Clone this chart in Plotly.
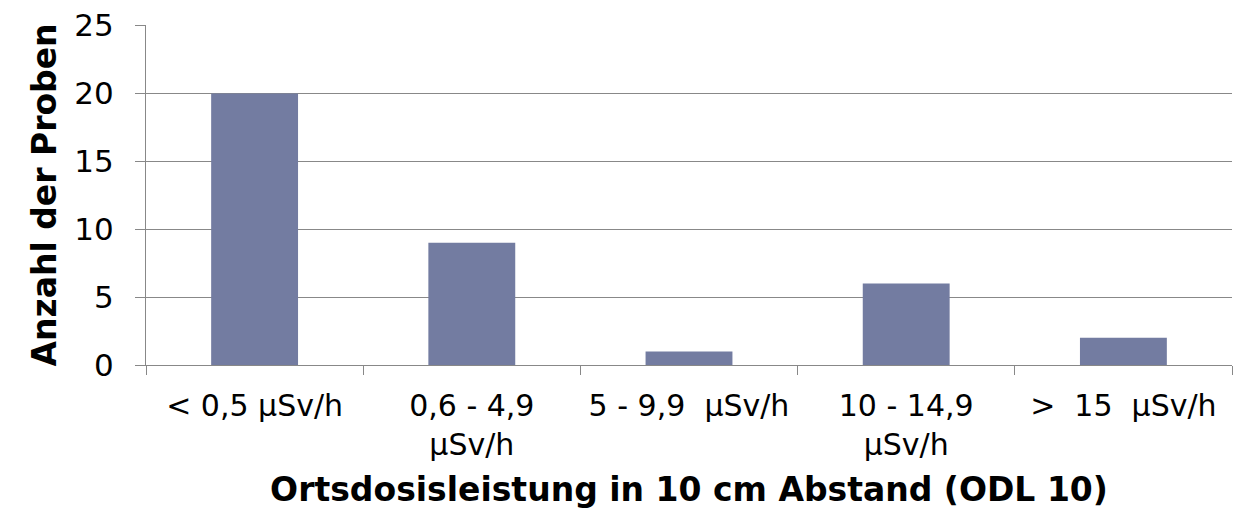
import plotly.graph_objects as go

categories = ["< 0,5 µSv/h", "0,6 - 4,9<br>µSv/h", "5 - 9,9  µSv/h", "10 - 14,9<br>µSv/h", ">  15  µSv/h"]
counts = [20, 9, 1, 6, 2]
y_ticks = [0, 5, 10, 15, 20, 25]

fig = go.Figure(
    go.Bar(
        x=categories,
        y=counts,
        marker_color="#737CA1",
        marker_line_width=0,
    )
)

fig.update_layout(
    width=1256,
    height=515,
    margin=dict(l=146, r=24, t=25, b=150),
    plot_bgcolor="white",
    paper_bgcolor="white",
    bargap=0.6,
    showlegend=False,
    font=dict(family="DejaVu Sans", color="black"),
)

fig.update_xaxes(
    automargin=False,
    showline=True,
    linecolor="#888888",
    linewidth=1,
    ticks="outside",
    tickson="boundaries",
    ticklen=9,
    tickcolor="#888888",
    tickfont=dict(size=30),
    ticklabelstandoff=14,
    title=dict(text="<b>Ortsdosisleistung in 10 cm Abstand (ODL 10)</b>", font=dict(size=33), standoff=16),
)

fig.update_yaxes(
    automargin=False,
    range=[0, 25.04],
    tickvals=y_ticks,
    showline=True,
    linecolor="#888888",
    linewidth=1,
    showgrid=True,
    gridcolor="#888888",
    gridwidth=1,
    ticks="outside",
    ticklen=10,
    tickcolor="#888888",
    tickfont=dict(size=31),
    ticklabelstandoff=15,
    zeroline=False,
    title=dict(text="<b>Anzahl der Proben</b>", font=dict(size=33), standoff=7),
)

# drop the default 8px body margin so the figure fills the window
fig.write_html(
    "out.html",
    config={"displayModeBar": False},
    post_script="document.body.style.margin = '0';",
)
